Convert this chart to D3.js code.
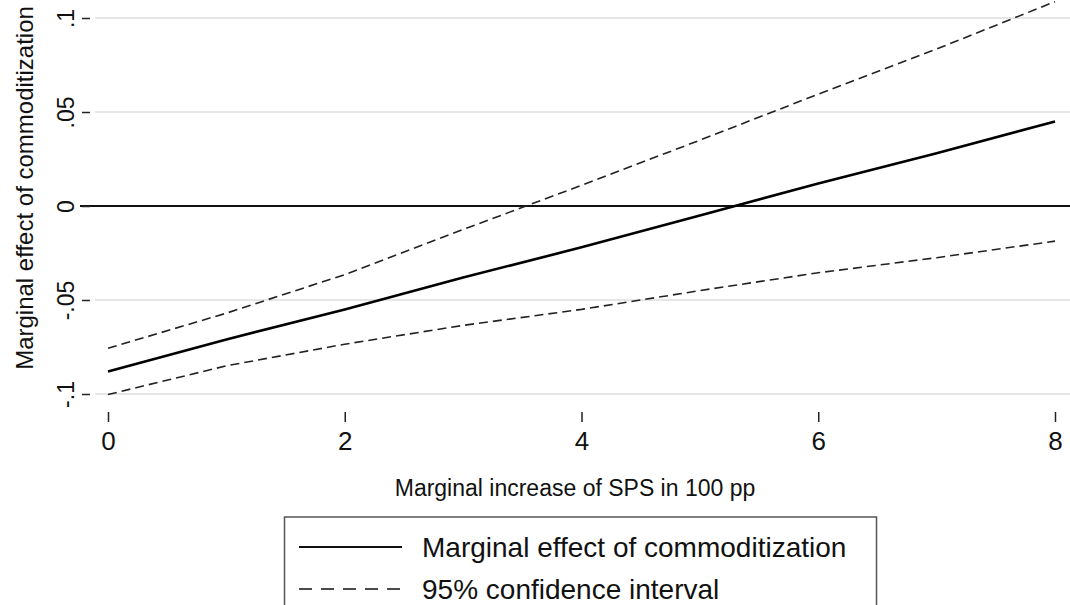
<!DOCTYPE html>
<html>
<head>
<meta charset="utf-8">
<script src="https://cdn.jsdelivr.net/npm/d3@7"></script>
<style>
  body { margin: 0; background: #fff; }
  svg { display: block; font-family: "Liberation Sans", Arial, sans-serif; }
</style>
</head>
<body>
<svg id="chart" width="1070" height="605"></svg>
<script>
// values
const sps = [0, 1, 2, 3, 4, 5, 6, 7, 8];
const effect = [-0.088, -0.071, -0.055, -0.038, -0.022, -0.005, 0.012, 0.028, 0.045];
const upper = [-0.0757, -0.0570, -0.0365, -0.0125, 0.0110, 0.0350, 0.0595, 0.0835, 0.1087];
const lower = [-0.1003, -0.0850, -0.0735, -0.0635, -0.0550, -0.0450, -0.0355, -0.0275, -0.0187];
const xTicks = [0, 2, 4, 6, 8];
const yTicks = [-0.1, -0.05, 0, 0.05, 0.1];
const yTickLabels = ["-.1", "-.05", "0", ".05", ".1"];
const legendLabels = ["Marginal effect of commoditization", "95% confidence interval"];

const svg = d3.select("#chart");

const x = d3.scaleLinear().domain([0, 8]).range([108, 1055]);
const y = d3.scaleLinear().domain([-0.1, 0.1]).range([394, 18]);

// grid lines (zero gets its own dark line)
svg.append("g")
  .selectAll("line")
  .data(yTicks.filter(d => d !== 0))
  .enter().append("line")
  .attr("x1", 95)
  .attr("x2", 1070)
  .attr("y1", d => y(d))
  .attr("y2", d => y(d))
  .attr("stroke", "#e6e6e6")
  .attr("stroke-width", 2);

svg.append("line")
  .attr("x1", 80)
  .attr("x2", 1070)
  .attr("y1", y(0))
  .attr("y2", y(0))
  .attr("stroke", "#111")
  .attr("stroke-width", 2.2);

// y axis: ticks only, rotated labels
const yAxis = svg.append("g")
  .attr("transform", "translate(90,0)")
  .call(d3.axisLeft(y).tickValues(yTicks).tickSize(8).tickFormat((d, i) => yTickLabels[i]));
yAxis.select(".domain").remove();
yAxis.selectAll(".tick line").attr("stroke", "#222").attr("stroke-width", 1.5);
yAxis.selectAll(".tick text")
  .attr("x", null)
  .attr("dy", null)
  .attr("transform", "translate(-16,0) rotate(-90)")
  .attr("text-anchor", "middle")
  .attr("fill", "#111")
  .style("font-size", "23px");

// x axis
const xAxis = svg.append("g")
  .attr("transform", "translate(0,412)")
  .call(d3.axisBottom(x).tickValues(xTicks).tickSize(10).tickFormat(d3.format("d")));
xAxis.select(".domain").remove();
xAxis.selectAll(".tick line").attr("stroke", "#222").attr("stroke-width", 1.5);
xAxis.selectAll(".tick text")
  .attr("y", 38)
  .attr("dy", null)
  .attr("fill", "#111")
  .style("font-size", "26px");

// axis titles
svg.append("text")
  .attr("transform", "translate(33,188) rotate(-90)")
  .attr("text-anchor", "middle")
  .attr("fill", "#111")
  .style("font-size", "24px")
  .text("Marginal effect of commoditization");

svg.append("text")
  .attr("x", 575)
  .attr("y", 496)
  .attr("text-anchor", "middle")
  .attr("fill", "#111")
  .style("font-size", "23px")
  .text("Marginal increase of SPS in 100 pp");

// lines
const line = d3.line()
  .x((d, i) => x(sps[i]))
  .y(d => y(d));

[upper, lower].forEach(s => {
  svg.append("path")
    .datum(s)
    .attr("d", line)
    .attr("fill", "none")
    .attr("stroke", "#222")
    .attr("stroke-width", 1.6)
    .attr("stroke-dasharray", "9,5");
});

svg.append("path")
  .datum(effect)
  .attr("d", line)
  .attr("fill", "none")
  .attr("stroke", "#000")
  .attr("stroke-width", 2.6);

// legend
const legend = svg.append("g");
legend.append("rect")
  .attr("x", 284.5)
  .attr("y", 517)
  .attr("width", 592)
  .attr("height", 110)
  .attr("fill", "#fff")
  .attr("stroke", "#555")
  .attr("stroke-width", 1.5);

const rows = legend.selectAll(".row")
  .data(legendLabels)
  .enter().append("g")
  .attr("class", "row")
  .attr("transform", (d, i) => `translate(0,${547 + i * 42})`);

rows.append("line")
  .attr("x1", 299)
  .attr("x2", 402)
  .attr("stroke", "#111")
  .attr("stroke-width", (d, i) => i === 0 ? 2 : 1.6)
  .attr("stroke-dasharray", (d, i) => i === 0 ? null : "13,9");

rows.append("text")
  .attr("x", 422)
  .attr("y", 10)
  .attr("fill", "#111")
  .style("font-size", "28px")
  .text(d => d);
</script>
</body>
</html>
